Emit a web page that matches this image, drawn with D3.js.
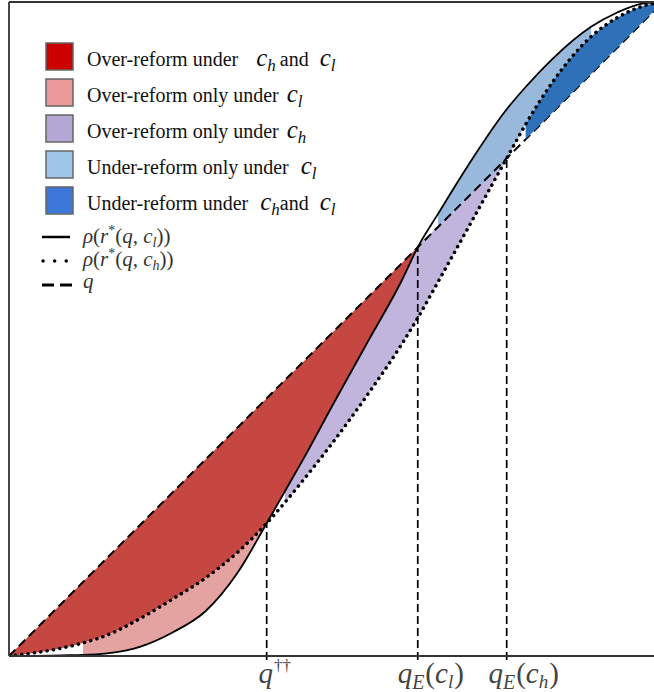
<!DOCTYPE html>
<html>
<head>
<meta charset="utf-8">
<script src="https://cdn.jsdelivr.net/npm/d3@7"></script>
<style>
  body { margin: 0; background: #fff; }
  svg { display: block; }
</style>
</head>
<body>
<div id="chart"></div>
<script>
// q grid and the two curves rho(r*(q, c_l)) (solid) and rho(r*(q, c_h)) (dotted)
const qGrid   = [0, 0.04, 0.08, 0.113, 0.15, 0.2, 0.25, 0.3, 0.35, 0.394, 0.422, 0.45, 0.5, 0.55, 0.6, 0.625, 0.656, 0.7, 0.761, 0.79, 0.83, 0.89, 0.93, 0.97, 1.0];
const rhoLow  = [0, 0.0003, 0.001, 0.0015, 0.004, 0.014, 0.036, 0.068, 0.128, 0.203, 0.252, 0.301, 0.393, 0.483, 0.573, 0.625, 0.676, 0.747, 0.836, 0.870, 0.912, 0.962, 0.984, 0.998, 1.0];
const rhoHigh = [0, 0.005, 0.012, 0.020, 0.032, 0.057, 0.087, 0.119, 0.159, 0.203, 0.235, 0.269, 0.333, 0.402, 0.476, 0.517, 0.572, 0.651, 0.761, 0.813, 0.876, 0.947, 0.976, 0.994, 1.0];

// marked points on the q axis: q††, q_E(c_l), q_E(c_h)
const markQ      = [0.394, 0.625, 0.761];
const markHeight = [0.203, 0.625, 0.761];

// shaded regions: where each fill starts / ends along q
const regionNames = ["Over-reform under c_h and c_l", "Over-reform only under c_l", "Over-reform only under c_h",
                     "Under-reform only under c_l", "Under-reform under c_h and c_l"];
const regionFrom  = [0, 0.113, 0.422, 0.656, 0.79];
const regionTo    = [0.625, 0.394, 0.761, 0.89, 1.0];
const regionFill  = ["#c64642", "#e4a2a0", "#c1b5dd", "#98b9db", "#2e71b8"];
const legendFill  = ["#cc0000", "#ea9999", "#b4a7d6", "#9fc5e8", "#3c78d8"];

const W = 654, H = 692;

const svg = d3.select("#chart").append("svg")
    .attr("width", W)
    .attr("height", H)
    .style("font-family", "'Liberation Serif', 'Times New Roman', serif");

const x = d3.scaleLinear().domain([0, 1]).range([9, 663]);
const y = d3.scaleLinear().domain([0, 1]).range([656, 2]);

const rows = qGrid.map((q, i) => ({q: q, l: rhoLow[i], h: rhoHigh[i]}));

svg.append("clipPath").attr("id", "plot")
    .append("rect").attr("x", x(0)).attr("y", y(1)).attr("width", x(1) - x(0)).attr("height", y(0) - y(1));

const g = svg.append("g").attr("clip-path", "url(#plot)");

// lower / upper bounds of each region
const bounds = [
    [r => Math.max(r.l, r.h), r => r.q],
    [r => r.l, r => r.h],
    [r => r.h, r => Math.min(r.q, r.l)],
    [r => Math.max(r.q, r.h), r => r.l],
    [r => r.q, r => r.h]
];

function drawRegion(i) {
    const sub = rows.filter(r => r.q >= regionFrom[i] - 1e-9 && r.q <= regionTo[i] + 1e-9);
    const area = d3.area()
        .x(d => x(d.q))
        .y0(d => y(bounds[i][0](d)))
        .y1(d => y(bounds[i][1](d)))
        .curve(d3.curveMonotoneX);
    g.append("path").datum(sub)
        .attr("d", area)
        .attr("fill", regionFill[i]);
}

[0, 1, 2, 3].forEach(drawRegion);

// 45 degree line q
g.append("path").datum(rows)
    .attr("d", d3.line().x(d => x(d.q)).y(d => y(d.q)))
    .attr("fill", "none")
    .attr("stroke", "#000")
    .attr("stroke-width", 2)
    .attr("stroke-dasharray", "9,5");

drawRegion(4);

const lineLow = d3.line().x(d => x(d.q)).y(d => y(d.l)).curve(d3.curveMonotoneX);
const lineHigh = d3.line().x(d => x(d.q)).y(d => y(d.h)).curve(d3.curveMonotoneX);

g.append("path").datum(rows)
    .attr("d", lineLow)
    .attr("fill", "none")
    .attr("stroke", "#000")
    .attr("stroke-width", 1.8);

g.append("path").datum(rows)
    .attr("d", lineHigh)
    .attr("fill", "none")
    .attr("stroke", "#000")
    .attr("stroke-width", 3.5)
    .attr("stroke-linecap", "round")
    .attr("stroke-dasharray", "0.1,6.3");

// vertical dashed markers
svg.selectAll(".mark")
    .data(markQ)
    .join("line")
    .attr("class", "mark")
    .attr("x1", d => x(d)).attr("x2", d => x(d))
    .attr("y1", y(0) + 4)
    .attr("y2", (d, i) => y(markHeight[i]))
    .attr("stroke", "#000")
    .attr("stroke-width", 1.7)
    .attr("stroke-dasharray", "8,4");

// frame
const frame = svg.append("g").attr("stroke", "#333").attr("stroke-width", 1.8).attr("fill", "none");
frame.append("line").attr("x1", x(0)).attr("x2", x(0)).attr("y1", y(1)).attr("y2", y(0));
frame.append("line").attr("x1", x(0)).attr("x2", x(1)).attr("y1", y(0)).attr("y2", y(0));
frame.append("line").attr("x1", x(0)).attr("x2", x(1)).attr("y1", y(1)).attr("y2", y(1));

// tick labels
const tickText = svg.append("g").attr("fill", "#444").attr("font-size", 29);

function mathLabel(sel, parts) {
    parts.forEach(p => {
        const t = sel.append("tspan").text(p.t);
        if (p.it) t.attr("font-style", "italic");
        if (p.size) t.attr("font-size", p.size);
        if (p.dy) t.attr("dy", p.dy);
        if (p.dx) t.attr("dx", p.dx);
    });
}

const labelParts = [
    [{t: "q", it: true}, {t: "††", size: 17, dy: -12, dx: 1}],
    [{t: "q", it: true}, {t: "E", it: true, size: 20, dy: 6}, {t: "(", dy: -6, dx: 1}, {t: "c", it: true}, {t: "l", it: true, size: 19, dy: 5}, {t: ")", dy: -5, dx: 1}],
    [{t: "q", it: true}, {t: "E", it: true, size: 20, dy: 6}, {t: "(", dy: -6, dx: 1}, {t: "c", it: true}, {t: "h", it: true, size: 19, dy: 5}, {t: ")", dy: -5, dx: 1}]
];
const labelShift = [8, 13, 17];

markQ.forEach((q, i) => {
    const t = tickText.append("text")
        .attr("x", x(q) + labelShift[i])
        .attr("y", 683)
        .attr("text-anchor", "middle");
    mathLabel(t, labelParts[i]);
});

// legend
const legend = svg.append("g").attr("transform", "translate(46,43)");
const legendParts = [
    [{t: "Over-reform under"}, {t: "c", it: true, size: 25, dx: 18}, {t: "h", it: true, size: 17, dy: 5}, {t: "and", dy: -5, dx: 4}, {t: "c", it: true, size: 25, dx: 11}, {t: "l", it: true, size: 17, dy: 5}],
    [{t: "Over-reform only under"}, {t: "c", it: true, size: 25, dx: 8}, {t: "l", it: true, size: 17, dy: 5}],
    [{t: "Over-reform only under"}, {t: "c", it: true, size: 25, dx: 8}, {t: "h", it: true, size: 17, dy: 5}],
    [{t: "Under-reform only under"}, {t: "c", it: true, size: 25, dx: 12}, {t: "l", it: true, size: 17, dy: 5}],
    [{t: "Under-reform under"}, {t: "c", it: true, size: 25, dx: 12}, {t: "h", it: true, size: 17, dy: 5}, {t: "and", dy: -5}, {t: "c", it: true, size: 25, dx: 11}, {t: "l", it: true, size: 17, dy: 5}]
];

regionNames.forEach((name, i) => {
    const row = legend.append("g").attr("transform", "translate(0," + (i * 36) + ")");
    row.append("rect")
        .attr("width", 27).attr("height", 27)
        .attr("fill", legendFill[i])
        .attr("stroke", "#666")
        .attr("stroke-width", 1.5);
    const t = row.append("text")
        .attr("x", 41).attr("y", 23)
        .attr("font-size", 20)
        .attr("fill", "#111");
    mathLabel(t, legendParts[i]);
});

// line legend
const lineLegend = svg.append("g").attr("transform", "translate(42,0)");
lineLegend.append("line").attr("x1", 0).attr("x2", 28).attr("y1", 237).attr("y2", 237)
    .attr("stroke", "#000").attr("stroke-width", 2.5);
lineLegend.append("line").attr("x1", 1).attr("x2", 28).attr("y1", 261).attr("y2", 261)
    .attr("stroke", "#000").attr("stroke-width", 3.4).attr("stroke-linecap", "round")
    .attr("stroke-dasharray", "0.1,11.5");
lineLegend.append("line").attr("x1", 0).attr("x2", 30).attr("y1", 285).attr("y2", 285)
    .attr("stroke", "#000").attr("stroke-width", 3).attr("stroke-dasharray", "12,6");

const lineLabels = [
    [{t: "ρ", it: true}, {t: "("}, {t: "r", it: true}, {t: "*", size: 14, dy: -8}, {t: "(", dy: 8}, {t: "q, c", it: true}, {t: "l", it: true, size: 14, dy: 4}, {t: "))", dy: -4}],
    [{t: "ρ", it: true}, {t: "("}, {t: "r", it: true}, {t: "*", size: 14, dy: -8}, {t: "(", dy: 8}, {t: "q, c", it: true}, {t: "h", it: true, size: 14, dy: 4}, {t: "))", dy: -4}],
    [{t: "q", it: true}]
];
const lineLabelY = [243, 266, 288];
lineLabels.forEach((parts, i) => {
    const t = lineLegend.append("text")
        .attr("x", 41).attr("y", lineLabelY[i])
        .attr("font-size", 21)
        .attr("fill", "#333");
    mathLabel(t, parts);
});
</script>
</body>
</html>
